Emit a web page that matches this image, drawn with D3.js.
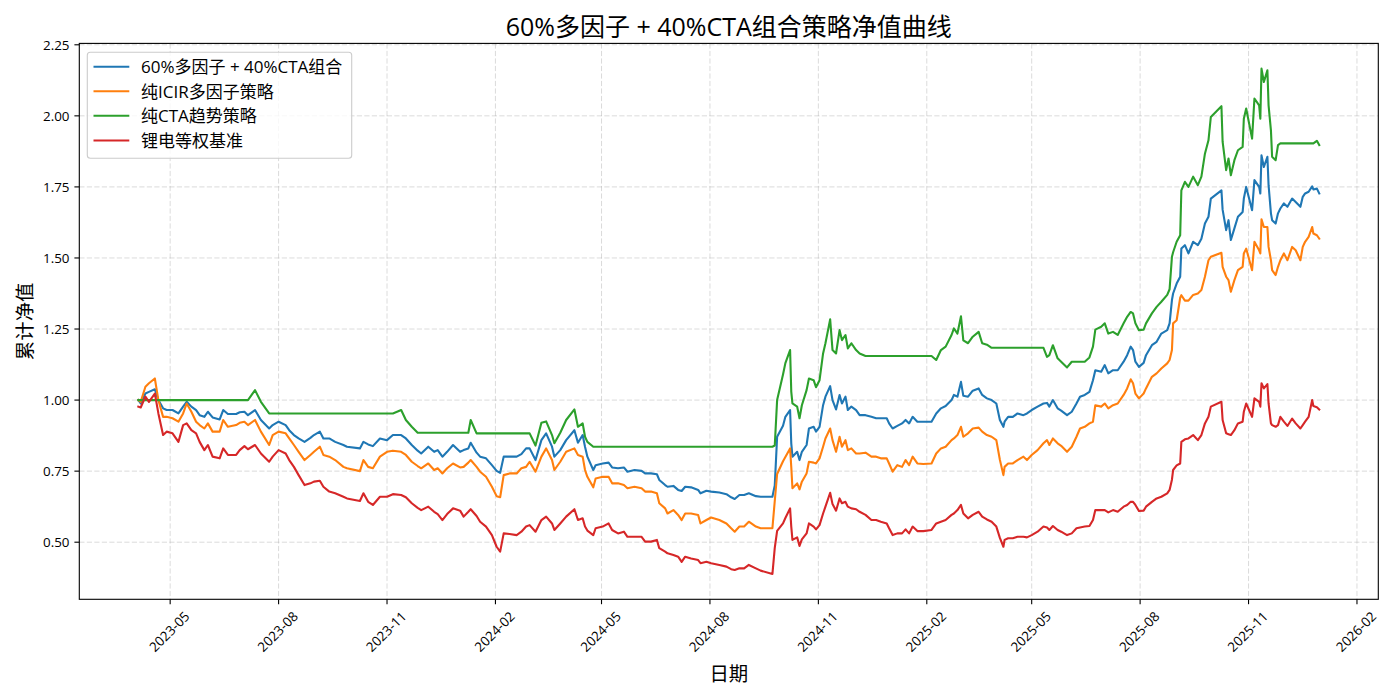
<!DOCTYPE html>
<html>
<head>
<meta charset="utf-8">
<script src="https://cdn.jsdelivr.net/npm/d3@7/dist/d3.min.js"></script>
<style>
  html, body { margin: 0; padding: 0; background: #ffffff; }
  svg { display: block; }
  text { font-family: "Open Sans", "Noto Sans CJK SC", "Noto Sans", "DejaVu Sans", sans-serif; fill: #000; }
</style>
</head>
<body>
<svg id="chart" width="1400" height="700"></svg>
<script>
// ---------------- data ----------------
const seriesNames = ["60%多因子 + 40%CTA组合", "纯ICIR多因子策略", "纯CTA趋势策略", "锂电等权基准"];
const seriesColors = ["#1f77b4", "#ff7f0e", "#2ca02c", "#d62728"];
const titleText = "60%多因子 + 40%CTA组合策略净值曲线";
const xLabelText = "日期";
const yLabelText = "累计净值";
const yTickValues = [0.50, 0.75, 1.00, 1.25, 1.50, 1.75, 2.00, 2.25];

const dates = [
"2023-04-04","2023-04-06","2023-04-10","2023-04-13","2023-04-18","2023-04-21","2023-04-25","2023-04-28",
"2023-05-03","2023-05-08","2023-05-12","2023-05-15","2023-05-19","2023-05-23","2023-05-26","2023-05-30",
"2023-06-02","2023-06-06","2023-06-12","2023-06-15","2023-06-19","2023-06-26","2023-06-29","2023-07-03",
"2023-07-06","2023-07-12","2023-07-17","2023-07-24","2023-07-27","2023-08-01","2023-08-07","2023-08-10",
"2023-08-14","2023-08-18","2023-08-23","2023-08-28","2023-08-31","2023-09-05","2023-09-08","2023-09-13",
"2023-09-18","2023-09-25","2023-09-28","2023-10-09","2023-10-12","2023-10-16","2023-10-20","2023-10-26",
"2023-11-01","2023-11-06","2023-11-13","2023-11-17","2023-11-22","2023-11-27","2023-11-30","2023-12-06",
"2023-12-11","2023-12-14","2023-12-18","2023-12-22","2023-12-27","2024-01-02","2024-01-05","2024-01-09",
"2024-01-11","2024-01-16","2024-01-19","2024-01-24","2024-01-29","2024-02-02","2024-02-05","2024-02-08",
"2024-02-13","2024-02-19","2024-02-23","2024-02-27","2024-03-01","2024-03-06","2024-03-11","2024-03-15",
"2024-03-20","2024-03-22","2024-03-27","2024-04-01","2024-04-08","2024-04-11","2024-04-15","2024-04-17",
"2024-04-19","2024-04-24","2024-04-26","2024-05-02","2024-05-07","2024-05-10","2024-05-15","2024-05-20",
"2024-05-23","2024-05-29","2024-06-04","2024-06-07","2024-06-12","2024-06-17","2024-06-19","2024-06-24",
"2024-06-26","2024-07-01","2024-07-05","2024-07-08","2024-07-11","2024-07-16","2024-07-22","2024-07-24",
"2024-07-29","2024-08-02","2024-08-09","2024-08-15","2024-08-19","2024-08-22","2024-08-26","2024-08-30",
"2024-09-03","2024-09-09","2024-09-13","2024-09-23","2024-09-25","2024-09-27","2024-10-02","2024-10-04",
"2024-10-08","2024-10-09","2024-10-10","2024-10-14","2024-10-16","2024-10-18","2024-10-22","2024-10-24",
"2024-10-28","2024-10-30","2024-11-02","2024-11-05","2024-11-07","2024-11-11","2024-11-13","2024-11-16",
"2024-11-19","2024-11-21","2024-11-24","2024-11-26","2024-11-29","2024-12-03","2024-12-06","2024-12-11",
"2024-12-16","2024-12-20","2024-12-24","2024-12-29","2024-12-31","2025-01-03","2025-01-07","2025-01-11",
"2025-01-14","2025-01-17","2025-01-20","2025-01-24","2025-01-29","2025-02-05","2025-02-09","2025-02-13",
"2025-02-17","2025-02-22","2025-02-24","2025-02-27","2025-03-02","2025-03-04","2025-03-08","2025-03-12",
"2025-03-17","2025-03-20","2025-03-24","2025-03-28","2025-04-01","2025-04-04","2025-04-07","2025-04-08",
"2025-04-11","2025-04-15","2025-04-19","2025-04-24","2025-04-27","2025-05-01","2025-05-06","2025-05-11",
"2025-05-14","2025-05-16","2025-05-19","2025-05-23","2025-05-26","2025-05-31","2025-06-04","2025-06-08",
"2025-06-11","2025-06-15","2025-06-19","2025-06-22","2025-06-24","2025-06-29","2025-07-02","2025-07-05",
"2025-07-09","2025-07-13","2025-07-18","2025-07-21","2025-07-24","2025-07-26","2025-07-28","2025-07-31",
"2025-08-04","2025-08-06","2025-08-11","2025-08-15","2025-08-19","2025-08-24","2025-08-26","2025-08-28",
"2025-08-29","2025-09-01","2025-09-04","2025-09-05","2025-09-08","2025-09-11","2025-09-15","2025-09-19",
"2025-09-22","2025-09-25","2025-09-28","2025-09-30","2025-10-09","2025-10-10","2025-10-13","2025-10-15",
"2025-10-17","2025-10-20","2025-10-23","2025-10-27","2025-10-28","2025-10-30","2025-11-04","2025-11-06",
"2025-11-10","2025-11-11","2025-11-12","2025-11-14","2025-11-17","2025-11-18","2025-11-20","2025-11-21",
"2025-11-24","2025-11-26","2025-11-28","2025-12-01","2025-12-04","2025-12-08","2025-12-11","2025-12-15",
"2025-12-17","2025-12-19","2025-12-22","2025-12-25","2025-12-26","2025-12-29","2025-12-31"
];

// 60%多因子 + 40%CTA组合
const comboNav = [
1.000,0.988,1.023,1.029,1.038,1.000,0.971,0.965,
0.965,0.953,0.977,0.994,0.977,0.965,0.947,0.941,
0.959,0.939,0.932,0.965,0.951,0.951,0.957,0.959,
0.947,0.965,0.930,0.900,0.912,0.924,0.912,0.894,
0.877,0.865,0.853,0.867,0.877,0.889,0.865,0.865,
0.853,0.842,0.836,0.830,0.853,0.844,0.838,0.865,
0.859,0.877,0.877,0.865,0.842,0.822,0.812,0.836,
0.818,0.824,0.801,0.818,0.842,0.818,0.824,0.830,
0.850,0.815,0.801,0.795,0.771,0.751,0.744,0.801,
0.801,0.801,0.810,0.830,0.830,0.789,0.859,0.883,
0.836,0.801,0.824,0.859,0.894,0.850,0.877,0.836,
0.801,0.754,0.771,0.777,0.780,0.763,0.760,0.763,
0.748,0.754,0.751,0.742,0.742,0.739,0.719,0.701,
0.695,0.698,0.684,0.680,0.695,0.693,0.684,0.672,
0.681,0.678,0.675,0.669,0.658,0.652,0.666,0.666,
0.672,0.662,0.660,0.660,0.700,0.871,0.910,0.941,
0.965,0.848,0.801,0.818,0.789,0.818,0.842,0.900,
0.906,0.889,0.906,0.982,1.012,1.049,1.000,0.967,
1.018,0.988,1.012,0.965,0.977,0.965,0.947,0.947,
0.941,0.936,0.936,0.936,0.918,0.900,0.909,0.918,
0.930,0.918,0.941,0.924,0.924,0.924,0.953,0.971,
0.979,1.000,1.018,1.012,1.064,1.015,1.012,1.033,
1.041,1.018,1.006,1.000,0.988,0.930,0.906,0.924,
0.941,0.941,0.953,0.947,0.953,0.965,0.977,0.988,
0.990,0.977,1.000,0.971,0.963,0.947,0.959,0.988,
1.012,1.018,1.029,1.070,1.105,1.100,1.123,1.094,
1.105,1.105,1.135,1.158,1.188,1.176,1.135,1.117,
1.131,1.158,1.193,1.205,1.234,1.246,1.270,1.352,
1.375,1.410,1.434,1.533,1.545,1.516,1.557,1.545,
1.568,1.621,1.645,1.709,1.738,1.670,1.598,1.633,
1.563,1.604,1.645,1.662,1.709,1.750,1.668,1.774,
1.750,1.727,1.861,1.820,1.856,1.756,1.657,1.633,
1.621,1.657,1.674,1.692,1.680,1.709,1.697,1.680,
1.715,1.727,1.733,1.752,1.741,1.744,1.727
];

// 纯ICIR多因子策略
const icirNav = [
1.000,0.994,1.047,1.059,1.076,1.000,0.941,0.941,
0.936,0.924,0.953,0.988,0.959,0.924,0.912,0.900,
0.918,0.889,0.889,0.930,0.906,0.912,0.920,0.924,
0.912,0.930,0.889,0.842,0.877,0.889,0.883,0.865,
0.842,0.818,0.789,0.807,0.818,0.836,0.807,0.801,
0.789,0.765,0.760,0.750,0.789,0.765,0.760,0.801,
0.818,0.822,0.818,0.807,0.783,0.768,0.760,0.777,
0.754,0.760,0.742,0.760,0.777,0.763,0.765,0.780,
0.789,0.765,0.748,0.730,0.695,0.662,0.658,0.736,
0.742,0.742,0.760,0.765,0.783,0.748,0.801,0.830,
0.789,0.754,0.783,0.818,0.830,0.807,0.801,0.754,
0.730,0.693,0.724,0.730,0.730,0.707,0.707,0.701,
0.690,0.695,0.690,0.678,0.678,0.672,0.637,0.619,
0.601,0.613,0.596,0.578,0.601,0.601,0.596,0.566,
0.578,0.587,0.578,0.566,0.549,0.537,0.555,0.555,
0.572,0.555,0.549,0.549,0.645,0.740,0.785,0.800,
0.830,0.765,0.690,0.707,0.686,0.713,0.742,0.783,
0.780,0.777,0.795,0.836,0.865,0.900,0.859,0.818,
0.871,0.836,0.859,0.824,0.830,0.812,0.812,0.815,
0.801,0.801,0.795,0.795,0.777,0.748,0.771,0.765,
0.789,0.771,0.801,0.777,0.775,0.777,0.812,0.830,
0.836,0.859,0.865,0.877,0.906,0.871,0.883,0.900,
0.903,0.889,0.877,0.871,0.859,0.790,0.736,0.765,
0.777,0.777,0.789,0.801,0.789,0.807,0.824,0.848,
0.859,0.842,0.865,0.848,0.839,0.818,0.836,0.871,
0.900,0.906,0.918,0.924,0.982,0.977,0.988,0.971,
0.982,0.988,1.018,1.041,1.073,1.059,1.023,1.006,
1.023,1.041,1.082,1.094,1.111,1.129,1.141,1.176,
1.270,1.281,1.360,1.369,1.350,1.350,1.370,1.375,
1.387,1.434,1.492,1.504,1.518,1.469,1.434,1.422,
1.381,1.422,1.457,1.469,1.516,1.533,1.457,1.557,
1.527,1.516,1.636,1.609,1.609,1.539,1.492,1.457,
1.440,1.469,1.492,1.516,1.492,1.539,1.527,1.492,
1.539,1.557,1.574,1.609,1.586,1.580,1.568
];

// 纯CTA趋势策略
const ctaNav = [
1.000,1.000,1.000,1.000,1.000,1.000,1.000,1.000,
1.000,1.000,1.000,1.000,1.000,1.000,1.000,1.000,
1.000,1.000,1.000,1.000,1.000,1.000,1.000,1.000,
1.000,1.035,0.994,0.953,0.953,0.953,0.953,0.953,
0.953,0.953,0.953,0.953,0.953,0.953,0.953,0.953,
0.953,0.953,0.953,0.953,0.953,0.953,0.953,0.953,
0.953,0.953,0.965,0.930,0.906,0.885,0.885,0.885,
0.885,0.885,0.885,0.885,0.885,0.885,0.885,0.885,
0.930,0.883,0.883,0.883,0.883,0.883,0.883,0.883,
0.883,0.883,0.883,0.883,0.883,0.840,0.920,0.925,
0.877,0.848,0.885,0.930,0.967,0.906,0.918,0.871,
0.853,0.836,0.836,0.836,0.836,0.836,0.836,0.836,
0.836,0.836,0.836,0.836,0.836,0.836,0.836,0.836,
0.836,0.836,0.836,0.836,0.836,0.836,0.836,0.836,
0.836,0.836,0.836,0.836,0.836,0.836,0.836,0.836,
0.836,0.836,0.836,0.836,0.840,1.000,1.090,1.130,
1.176,1.030,0.988,0.977,0.936,0.982,1.035,1.076,
1.070,1.045,1.070,1.164,1.200,1.284,1.176,1.164,
1.246,1.211,1.229,1.182,1.200,1.176,1.164,1.155,
1.155,1.155,1.155,1.155,1.155,1.155,1.155,1.155,
1.155,1.155,1.155,1.155,1.155,1.155,1.141,1.176,
1.188,1.229,1.252,1.234,1.295,1.210,1.200,1.223,
1.240,1.200,1.195,1.184,1.184,1.184,1.184,1.184,
1.184,1.184,1.184,1.184,1.184,1.184,1.184,1.184,
1.152,1.158,1.193,1.147,1.135,1.115,1.135,1.135,
1.135,1.135,1.150,1.188,1.248,1.258,1.270,1.234,
1.240,1.229,1.270,1.293,1.310,1.305,1.270,1.246,
1.248,1.270,1.305,1.328,1.346,1.370,1.390,1.504,
1.520,1.557,1.580,1.738,1.768,1.750,1.786,1.756,
1.786,1.867,1.914,1.996,2.034,1.909,1.809,1.850,
1.791,1.844,1.879,1.891,1.990,2.026,1.920,2.061,
2.037,1.990,2.166,2.119,2.160,2.037,1.949,1.856,
1.844,1.897,1.903,1.903,1.903,1.903,1.903,1.903,
1.903,1.903,1.903,1.903,1.903,1.912,1.897
];

// 锂电等权基准
const benchNav = [
0.977,0.974,1.012,0.994,1.023,0.953,0.877,0.889,
0.883,0.853,0.912,0.918,0.894,0.883,0.853,0.824,
0.842,0.801,0.795,0.830,0.807,0.807,0.824,0.838,
0.827,0.842,0.812,0.783,0.801,0.824,0.812,0.789,
0.765,0.736,0.701,0.707,0.713,0.716,0.695,0.678,
0.672,0.660,0.654,0.645,0.672,0.642,0.631,0.660,
0.660,0.669,0.666,0.658,0.637,0.621,0.613,0.625,
0.607,0.599,0.578,0.599,0.619,0.611,0.590,0.607,
0.616,0.592,0.572,0.555,0.525,0.484,0.467,0.531,
0.529,0.525,0.537,0.555,0.560,0.537,0.578,0.590,
0.566,0.543,0.566,0.590,0.616,0.578,0.584,0.555,
0.541,0.525,0.549,0.555,0.566,0.543,0.531,0.537,
0.519,0.519,0.519,0.502,0.502,0.508,0.479,0.467,
0.461,0.455,0.449,0.431,0.449,0.443,0.437,0.426,
0.431,0.426,0.420,0.414,0.405,0.402,0.408,0.408,
0.420,0.408,0.400,0.388,0.480,0.540,0.566,0.585,
0.619,0.555,0.508,0.517,0.487,0.510,0.531,0.566,
0.555,0.545,0.560,0.601,0.625,0.674,0.634,0.611,
0.654,0.637,0.642,0.625,0.619,0.616,0.607,0.596,
0.578,0.578,0.572,0.566,0.549,0.525,0.531,0.531,
0.545,0.531,0.555,0.539,0.539,0.543,0.566,0.572,
0.578,0.596,0.601,0.613,0.631,0.601,0.584,0.596,
0.607,0.590,0.580,0.572,0.555,0.515,0.484,0.508,
0.514,0.514,0.519,0.519,0.517,0.525,0.537,0.555,
0.552,0.543,0.557,0.543,0.537,0.525,0.531,0.549,
0.552,0.555,0.557,0.578,0.613,0.613,0.613,0.605,
0.613,0.607,0.625,0.631,0.642,0.642,0.631,0.610,
0.611,0.625,0.642,0.654,0.660,0.672,0.684,0.720,
0.754,0.770,0.777,0.853,0.862,0.865,0.877,0.859,
0.877,0.918,0.941,0.977,0.994,0.930,0.883,0.880,
0.877,0.894,0.918,0.924,0.959,0.988,0.941,1.006,
0.994,0.977,1.059,1.041,1.056,0.988,0.918,0.912,
0.906,0.912,0.941,0.924,0.909,0.935,0.918,0.900,
0.912,0.924,0.941,1.000,0.979,0.975,0.967
];

// ---------------- drawing ----------------
const W = 1400, H = 700;
const plot = { left: 79.3, right: 1378.3, top: 43.4, bottom: 599.3 };
const svg = d3.select("#chart");
svg.append("rect").attr("width", W).attr("height", H).attr("fill", "#ffffff");

const parse = d3.timeParse("%Y-%m-%d");
const dateObjs = dates.map(parse);
const allSeries = [comboNav, icirNav, ctaNav, benchNav];

// matplotlib-like 5% margins
const xExt = d3.extent(dateObjs);
const xPad = (xExt[1] - xExt[0]) * 0.05;
const x = d3.scaleTime()
  .domain([new Date(+xExt[0] - xPad), new Date(+xExt[1] + xPad)])
  .range([plot.left, plot.right]);

const yMin = d3.min(allSeries, s => d3.min(s));
const yMax = d3.max(allSeries, s => d3.max(s));
const yPad = (yMax - yMin) * 0.05;
const y = d3.scaleLinear()
  .domain([yMin - yPad, yMax + yPad])
  .range([plot.bottom, plot.top]);

// x ticks: every 3 months starting Feb
const xTickValues = d3.timeMonth.range(x.domain()[0], x.domain()[1])
  .filter(d => d.getMonth() % 3 === 1);
const fmt = d3.timeFormat("%Y-%m");

// grid
const grid = svg.append("g").attr("class", "grid");
grid.selectAll("line.vx").data(xTickValues).enter().append("line")
  .attr("x1", d => x(d)).attr("x2", d => x(d))
  .attr("y1", plot.top).attr("y2", plot.bottom)
  .attr("stroke", "#b0b0b0").attr("stroke-opacity", 0.45)
  .attr("stroke-width", 1).attr("stroke-dasharray", "5.2,2.3");
grid.selectAll("line.hy").data(yTickValues).enter().append("line")
  .attr("x1", plot.left).attr("x2", plot.right)
  .attr("y1", d => y(d)).attr("y2", d => y(d))
  .attr("stroke", "#b0b0b0").attr("stroke-opacity", 0.45)
  .attr("stroke-width", 1).attr("stroke-dasharray", "5.2,2.3");

// lines
const clipId = "plotclip";
svg.append("clipPath").attr("id", clipId).append("rect")
  .attr("x", plot.left).attr("y", plot.top)
  .attr("width", plot.right - plot.left).attr("height", plot.bottom - plot.top);

const lineGen = d3.line()
  .x((d, i) => x(dateObjs[i]))
  .y(d => y(d));

const linesG = svg.append("g").attr("clip-path", `url(#${clipId})`);
allSeries.forEach((s, k) => {
  linesG.append("path")
    .datum(s)
    .attr("d", lineGen)
    .attr("fill", "none")
    .attr("stroke", seriesColors[k])
    .attr("stroke-width", 2.1)
    .attr("stroke-linejoin", "round")
    .attr("stroke-linecap", "square");
});

// axes frame (spines)
svg.append("rect")
  .attr("x", plot.left).attr("y", plot.top)
  .attr("width", plot.right - plot.left).attr("height", plot.bottom - plot.top)
  .attr("fill", "none").attr("stroke", "#000").attr("stroke-width", 1.1);

// x axis ticks
const xAxisG = svg.append("g");
xAxisG.selectAll("line.xt").data(xTickValues).enter().append("line")
  .attr("x1", d => x(d)).attr("x2", d => x(d))
  .attr("y1", plot.bottom).attr("y2", plot.bottom + 4.9)
  .attr("stroke", "#000").attr("stroke-width", 1.1);
const xLabels = xAxisG.selectAll("text.xl").data(xTickValues).enter().append("text")
  .attr("font-size", 13.4)
  .attr("text-anchor", "middle")
  .attr("dominant-baseline", "central")
  .text(d => fmt(d));
xLabels.each(function(d) {
  const w = this.getComputedTextLength();
  const box = (w + 13) * Math.SQRT1_2;
  const cx = x(d) - 1;
  const cy = plot.bottom + 4.9 + 4.9 + box / 2;
  d3.select(this).attr("transform", `translate(${cx},${cy}) rotate(-45)`);
});

// y axis ticks
const yAxisG = svg.append("g");
yAxisG.selectAll("line.yt").data(yTickValues).enter().append("line")
  .attr("x1", plot.left - 4.9).attr("x2", plot.left)
  .attr("y1", d => y(d)).attr("y2", d => y(d))
  .attr("stroke", "#000").attr("stroke-width", 1.1);
yAxisG.selectAll("text.yl").data(yTickValues).enter().append("text")
  .attr("x", plot.left - 4.9 - 4.9)
  .attr("y", d => y(d))
  .attr("font-size", 13.4)
  .attr("text-anchor", "end")
  .attr("dominant-baseline", "central")
  .text(d => d3.format(".2f")(d));

// title and axis labels
svg.append("text")
  .attr("x", (plot.left + plot.right) / 2).attr("y", 26)
  .attr("text-anchor", "middle").attr("dominant-baseline", "central")
  .attr("font-size", 25)
  .text(titleText);
svg.append("text")
  .attr("x", (plot.left + plot.right) / 2).attr("y", 673)
  .attr("text-anchor", "middle").attr("dominant-baseline", "central")
  .attr("font-size", 19.4)
  .text(xLabelText);
svg.append("text")
  .attr("transform", `translate(24,${(plot.top + plot.bottom) / 2}) rotate(-90)`)
  .attr("text-anchor", "middle").attr("dominant-baseline", "central")
  .attr("font-size", 19.4)
  .text(yLabelText);

// legend
const lg = svg.append("g");
const lgBox = { x: 87.3, y: 52.3, w: 264.4, h: 106 };
lg.append("rect")
  .attr("x", lgBox.x).attr("y", lgBox.y).attr("width", lgBox.w).attr("height", lgBox.h)
  .attr("rx", 3).attr("ry", 3)
  .attr("fill", "#ffffff").attr("fill-opacity", 0.8)
  .attr("stroke", "#cccccc").attr("stroke-width", 1.1);
const rowY = [66.7, 91.2, 115.7, 140.5];
seriesNames.forEach((name, k) => {
  lg.append("line")
    .attr("x1", 93.5).attr("x2", 129.3)
    .attr("y1", rowY[k]).attr("y2", rowY[k])
    .attr("stroke", seriesColors[k]).attr("stroke-width", 2.1);
  lg.append("text")
    .attr("x", 141).attr("y", rowY[k])
    .attr("dominant-baseline", "central")
    .attr("font-size", 17)
    .text(name);
});
</script>
</body>
</html>
